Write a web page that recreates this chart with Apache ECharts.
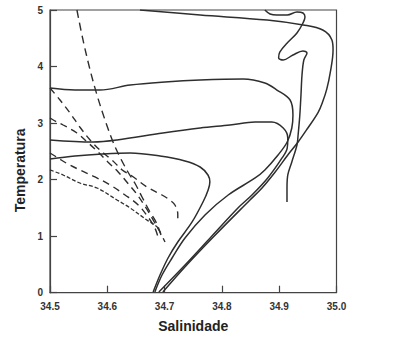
<!DOCTYPE html>
<html><head><meta charset="utf-8">
<script src="https://cdn.jsdelivr.net/npm/echarts@6/dist/echarts.min.js"></script>
<style>html,body{margin:0;padding:0;background:#fff}#c{width:406px;height:353px}</style>
</head><body><div id="c"></div>
<script>
// Axis ticks
const xTicks = [34.5, 34.6, 34.7, 34.8, 34.9, 35.0];
const yTicks = [0, 1, 2, 3, 4, 5];

// Solid curves [salinity, temperature]
const solidTop = [[34.657,5.00],[34.762,4.911],[34.879,4.823],[34.942,4.735],[34.976,4.646],[34.992,4.47],[34.994,4.293],[34.989,3.886],[34.983,3.60],[34.976,3.38],[34.968,3.19],[34.950,2.913],[34.933,2.665],[34.915,2.436],[34.893,2.135],[34.870,1.852],[34.849,1.64],[34.785,0.985],[34.737,0.472],[34.697,0.012]];
const solid36 = [[34.500,3.620],[34.5436,3.585],[34.587,3.585],[34.640,3.673],[34.7007,3.727],[34.762,3.762],[34.837,3.780],[34.875,3.709],[34.896,3.585],[34.919,3.408],[34.924,3.143],[34.922,2.913],[34.914,2.665],[34.898,2.436],[34.875,2.171],[34.858,2.029],[34.811,1.728],[34.7705,1.375],[34.7356,0.967],[34.713,0.614],[34.6955,0.313],[34.683,0.012]];
const solid27 = [[34.500,2.701],[34.575,2.665],[34.617,2.701],[34.697,2.825],[34.762,2.913],[34.814,2.966],[34.858,3.019],[34.887,3.019],[34.907,2.913],[34.915,2.736],[34.914,2.559],[34.905,2.383],[34.880,2.029],[34.8525,1.728],[34.828,1.498],[34.781,0.985],[34.734,0.472],[34.690,0.012]];
const solid24 = [[34.500,2.365],[34.5436,2.418],[34.591,2.453],[34.640,2.471],[34.692,2.418],[34.7356,2.33],[34.762,2.223],[34.7757,2.082],[34.779,1.958],[34.776,1.817],[34.767,1.604],[34.748,1.251],[34.723,0.897],[34.706,0.614],[34.692,0.313],[34.680,0.012]];
const solidWiggle = [[34.875,5.0],[34.884,4.93],[34.896,4.911],[34.914,4.911],[34.931,4.965],[34.9415,4.947],[34.945,4.876],[34.9415,4.770],[34.931,4.593],[34.914,4.416],[34.901,4.257],[34.899,4.151],[34.907,4.116],[34.924,4.204],[34.9415,4.275],[34.9485,4.240],[34.943,4.116],[34.9398,3.85],[34.938,3.497],[34.936,3.143],[34.933,2.789],[34.931,2.613],[34.922,2.312],[34.915,2.082],[34.9136,1.852],[34.9136,1.604]];

// Dashed curves
const dashSteep = [[34.547,5.0],[34.5576,4.47],[34.570,3.939],[34.582,3.497],[34.596,3.054],[34.610,2.665],[34.622,2.40],[34.636,2.135],[34.648,1.940],[34.6606,1.693],[34.6745,1.427],[34.685,1.251],[34.6937,1.021]];
const dash36 = [[34.5,3.62],[34.5175,3.408],[34.535,3.178],[34.552,2.931],[34.570,2.701],[34.587,2.524],[34.608,2.348],[34.626,2.171],[34.643,2.064],[34.669,1.870],[34.6955,1.728],[34.709,1.64],[34.718,1.551],[34.723,1.392],[34.723,1.233]];
const dash31 = [[34.5,3.09],[34.512,3.019],[34.523,2.966],[34.547,2.825],[34.565,2.665],[34.584,2.488],[34.601,2.312],[34.619,2.135],[34.634,1.958],[34.650,1.764],[34.662,1.587],[34.673,1.41],[34.682,1.251],[34.692,1.074],[34.7007,0.897]];
const dash25 = [[34.5,2.471],[34.514,2.383],[34.531,2.277],[34.552,2.171],[34.5785,2.047],[34.605,1.905],[34.631,1.728],[34.654,1.551],[34.671,1.339],[34.683,1.145],[34.6885,0.985]];
const dash22 = [[34.5,2.171],[34.523,2.082],[34.552,1.940],[34.582,1.852],[34.617,1.64],[34.640,1.498],[34.669,1.286],[34.687,1.162],[34.692,1.074]];

const ink = '#2e2e2e';
function solid(d){return {type:'line',data:d,showSymbol:false,smooth:0.35,silent:true,lineStyle:{color:ink,width:1.5}};}
function dashed(d,pat,w){return {type:'line',data:d,showSymbol:false,smooth:0.35,silent:true,lineStyle:{color:ink,width:w||1.4,type:pat}};}

const chart = echarts.init(document.getElementById('c'), null, {renderer:'svg'});
chart.setOption({
  animation:false,
  backgroundColor:'#fff',
  grid:{left:50,top:10,right:69.5,bottom:60.3,show:true,borderColor:'#444',borderWidth:1.2},
  xAxis:{type:'value',min:xTicks[0],max:xTicks[xTicks.length-1],interval:0.1,
    name:'Salinidade',nameLocation:'middle',nameGap:26,
    nameTextStyle:{fontFamily:'Liberation Sans',fontWeight:'bold',fontSize:14,color:'#222'},
    axisLine:{lineStyle:{color:'#444',width:1.2}},
    axisTick:{inside:true,length:7,lineStyle:{color:'#444',width:1.2}},
    axisLabel:{margin:9,fontFamily:'Liberation Sans',fontWeight:'bold',fontSize:10,color:'#333',formatter:v=>v.toFixed(1)},
    splitLine:{show:false}},
  yAxis:{type:'value',min:yTicks[0],max:yTicks[yTicks.length-1],interval:1,
    name:'Temperatura',nameLocation:'middle',nameGap:22,nameRotate:90,
    nameTextStyle:{fontFamily:'Liberation Sans',fontWeight:'bold',fontSize:14,color:'#222',padding:[0,38,0,0]},
    axisLine:{lineStyle:{color:'#444',width:1.2}},
    axisTick:{inside:true,length:7,lineStyle:{color:'#444',width:1.2}},
    axisLabel:{margin:7,fontFamily:'Liberation Sans',fontWeight:'bold',fontSize:10,color:'#333'},
    splitLine:{show:false}},
  series:[
    solid(solidTop),solid(solid36),solid(solid27),solid(solid24),solid(solidWiggle),
    dashed(dashSteep,[8,5]),dashed(dash36,[7,5]),dashed(dash31,[7,5]),dashed(dash25,[7,5]),dashed(dash22,[4,2],1.3)
  ]
});
</script></body></html>
